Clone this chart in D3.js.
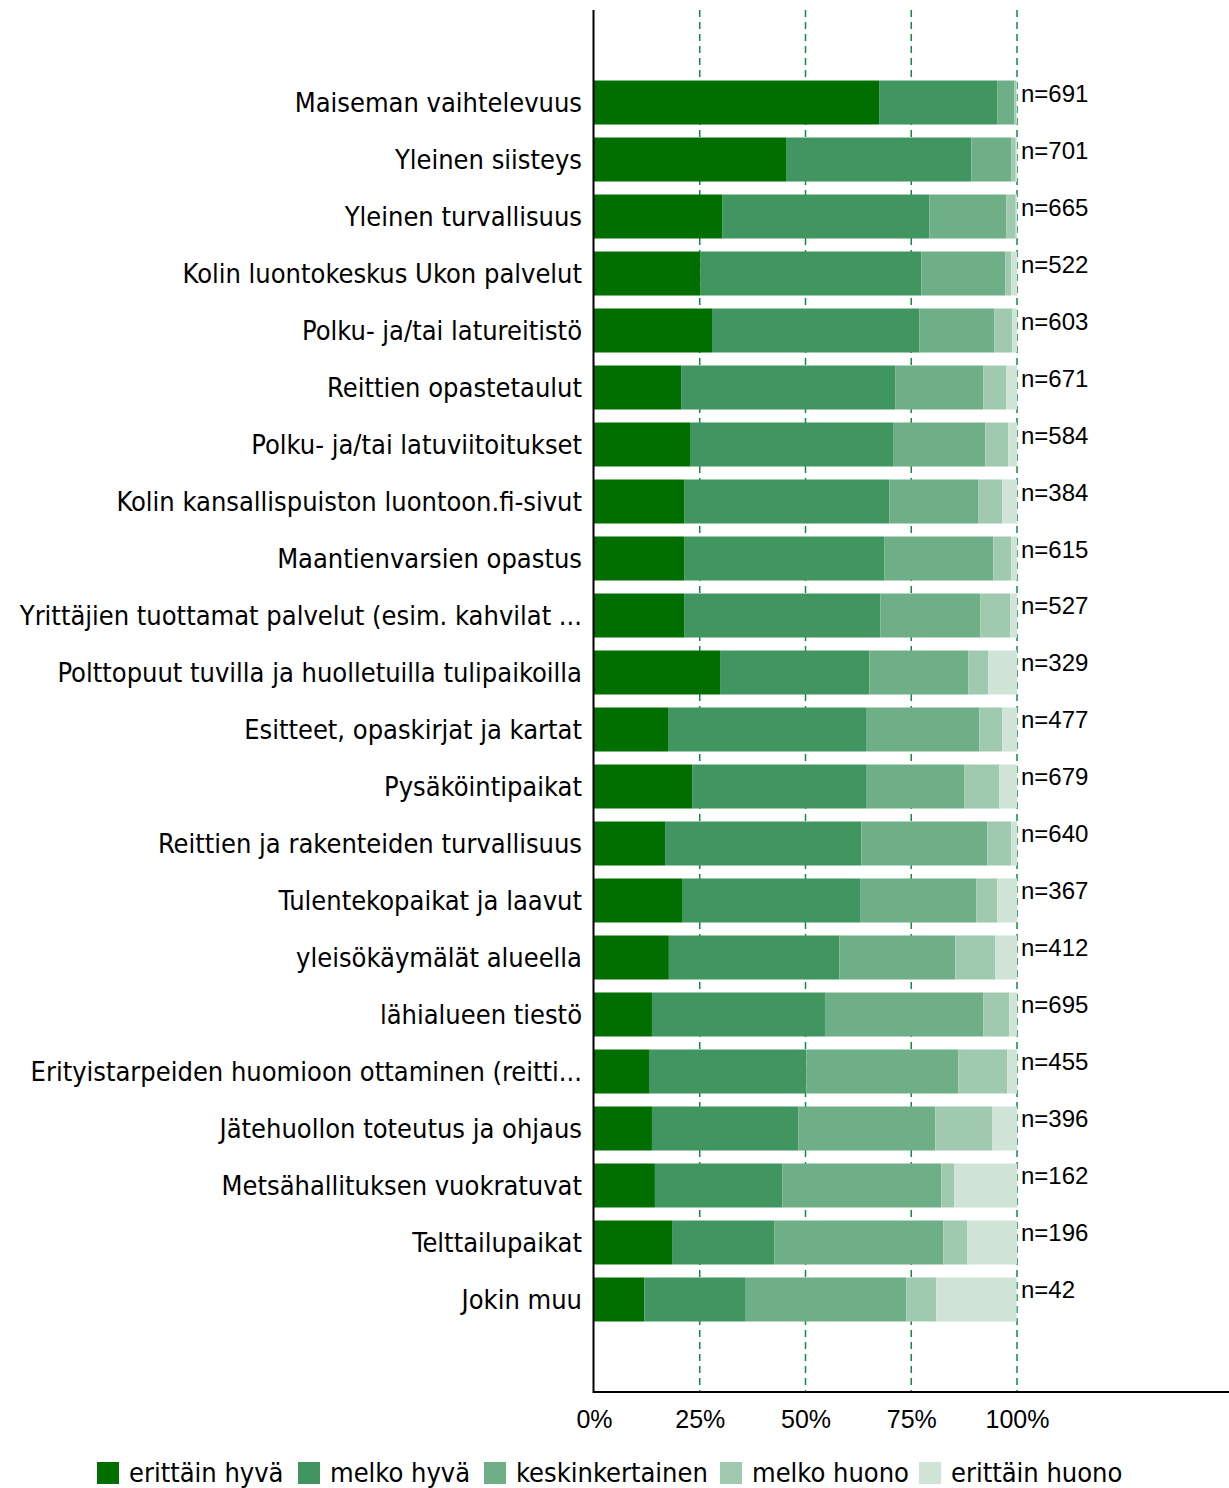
<!DOCTYPE html>
<html><head><meta charset="utf-8">
<script src="https://cdn.jsdelivr.net/npm/d3@7"></script>
<style>body{margin:0;background:#fff}svg{display:block}</style>
</head><body><div id="chart"></div>
<script>
const categories = [
 "Maiseman vaihtelevuus","Yleinen siisteys","Yleinen turvallisuus","Kolin luontokeskus Ukon palvelut",
 "Polku- ja/tai latureitistö","Reittien opastetaulut","Polku- ja/tai latuviitoitukset",
 "Kolin kansallispuiston luontoon.fi-sivut","Maantienvarsien opastus","Yrittäjien tuottamat palvelut (esim. kahvilat ...",
 "Polttopuut tuvilla ja huolletuilla tulipaikoilla","Esitteet, opaskirjat ja kartat","Pysäköintipaikat",
 "Reittien ja rakenteiden turvallisuus","Tulentekopaikat ja laavut","yleisökäymälät alueella","lähialueen tiestö",
 "Erityistarpeiden huomioon ottaminen (reitti...","Jätehuollon toteutus ja ohjaus","Metsähallituksen vuokratuvat",
 "Telttailupaikat","Jokin muu"];
const nValues = [691,701,665,522,603,671,584,384,615,527,329,477,679,640,367,412,695,455,396,162,196,42];
const seriesNames = ["erittäin hyvä","melko hyvä","keskinkertainen","melko huono","erittäin huono"];
const erittainHyva    = [67.4,45.4,30.3,25.1,27.9,20.6,22.7,21.3,21.3,21.3,29.8,17.5,23.2,16.8,20.8,17.7,13.7,13.0,13.7,14.4,18.45,11.9];
const melkoHyva       = [27.9,43.8,49.0,52.3,49.0,50.6,48.0,48.5,47.3,46.4,35.3,46.8,41.1,46.4,42.1,40.3,40.9,37.2,34.6,30.1,24.15,23.8];
const keskinkertainen = [4.1,9.5,18.2,19.8,17.7,20.8,21.8,21.0,25.8,23.6,23.4,26.8,23.2,29.8,27.5,27.4,37.4,35.9,32.4,37.6,40.0,38.1];
const melkoHuono      = [0.4,1.0,2.2,1.45,4.3,5.5,5.4,5.7,4.25,7.1,4.7,5.4,8.3,5.65,4.9,9.5,6.2,11.6,13.5,3.1,5.6,7.1];
const erittainHuono   = [0.2,0.3,0.3,1.35,1.1,2.5,2.1,3.5,1.35,1.6,6.8,3.5,4.2,1.35,4.7,5.1,1.8,2.3,5.8,14.8,11.8,19.0];
const tickValues = [0,25,50,75,100];
const colors = ["#006f00","#419561","#6eaf87","#a0cab0","#cfe3d7"];

const W=1229,H=1488;
const svg=d3.select("#chart").append("svg").attr("width",W).attr("height",H);
const rows = categories.map((c,i)=>({cat:c,n:nValues[i],
  "erittäin hyvä":erittainHyva[i],"melko hyvä":melkoHyva[i],"keskinkertainen":keskinkertainen[i],
  "melko huono":melkoHuono[i],"erittäin huono":erittainHuono[i]}));
const x=d3.scaleLinear().domain([0,100]).range([594,1017]);
const y=d3.scaleBand().domain(categories).range([10,1392]).paddingInner(0.228).paddingOuter(1.237);
const color=d3.scaleOrdinal().domain(seriesNames).range(colors);
const labelFont="DejaVu Sans Condensed, DejaVu Sans, sans-serif";
const numFont="Liberation Sans, Arial, sans-serif";

// gridlines
svg.append("g").selectAll("line").data(tickValues.filter(t=>t>0)).join("line")
 .attr("x1",d=>x(d)).attr("x2",d=>x(d)).attr("y1",10).attr("y2",1392)
 .attr("stroke","#128c44").attr("stroke-width",1.5).attr("stroke-dasharray","7,5");

const stack=d3.stack().keys(seriesNames)(rows);
svg.append("g").selectAll("g").data(stack).join("g").attr("fill",d=>color(d.key))
 .selectAll("rect").data(d=>d).join("rect")
 .attr("x",d=>x(d[0])).attr("width",d=>x(d[1])-x(d[0]))
 .attr("y",d=>y(d.data.cat)).attr("height",y.bandwidth());

// axes lines
svg.append("line").attr("x1",593.5).attr("x2",593.5).attr("y1",10).attr("y2",1393).attr("stroke","#000").attr("stroke-width",2);
svg.append("line").attr("x1",593).attr("x2",1229).attr("y1",1392).attr("y2",1392).attr("stroke","#000").attr("stroke-width",2);

const xAxis=svg.append("g").attr("transform","translate(0,1392)")
 .call(d3.axisBottom(x).tickValues(tickValues).tickFormat(d=>d+"%").tickSize(0).tickPadding(18));
xAxis.select(".domain").remove();
xAxis.selectAll("text").attr("font-family",numFont).attr("font-size",25).attr("fill","#000");

// category labels
svg.append("g").selectAll("text").data(categories).join("text")
 .attr("x",582).attr("y",d=>y(d)+y.bandwidth()/2).attr("dy","0.35em").attr("text-anchor","end")
 .attr("font-family",labelFont).attr("font-size",27).attr("fill","#000")
 .text(d=>d);

// n labels
svg.append("g").selectAll("text").data(rows).join("text")
 .attr("x",1021).attr("y",d=>y(d.cat)+21)
 .attr("font-family",numFont).attr("font-size",24).attr("fill","#000")
 .text(d=>"n="+d.n);

// legend
const legX=[97,298,484,720,919];
const leg=svg.append("g").selectAll("g").data(seriesNames).join("g")
 .attr("transform",(d,i)=>`translate(${legX[i]},1462)`);
leg.append("rect").attr("width",22).attr("height",22).attr("fill",d=>color(d));
leg.append("text").attr("x",32).attr("y",11).attr("dy","0.35em")
 .attr("font-family",labelFont).attr("font-size",27).attr("fill","#000").text(d=>d);
</script></body></html>
